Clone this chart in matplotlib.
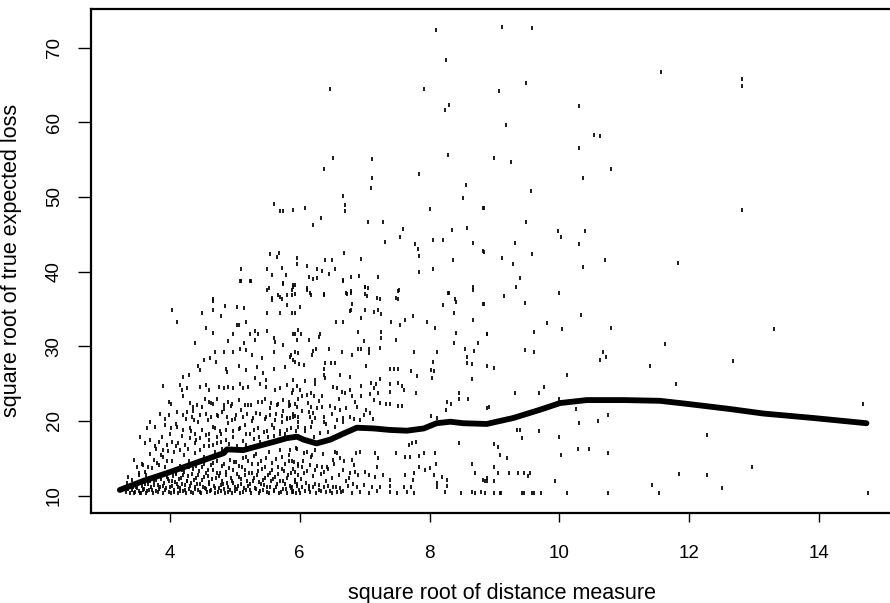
import matplotlib
matplotlib.use("Agg")
import matplotlib.pyplot as plt

plt.rcParams['font.family'] = ['Liberation Sans', 'DejaVu Sans']

# smoother through the cloud
curve_x = [3.23, 3.6, 3.95, 4.47, 4.83, 4.88, 5.13, 5.34, 5.60, 5.80, 5.96, 6.06, 6.26, 6.47,
           6.67, 6.88, 7.14, 7.39, 7.65, 7.91, 8.11, 8.32, 8.52, 8.88, 9.29, 9.70, 10.01,
           10.42, 11.0, 11.55, 11.96, 12.63, 13.14, 13.91, 14.73]
curve_y = [10.76, 12.0, 13.0, 14.6, 15.7, 16.2, 16.1, 16.6, 17.2, 17.7, 17.9, 17.5, 17.0, 17.5,
           18.3, 19.1, 19.0, 18.8, 18.7, 19.0, 19.7, 19.9, 19.7, 19.6, 20.4, 21.5, 22.4,
           22.8, 22.8, 22.7, 22.3, 21.6, 21.0, 20.4, 19.7]

# sparse upper points (y > ~36), left half
upper_pts = [
    (8.10, 72.4), (8.26, 68.3), (6.47, 64.4), (7.91, 64.4), (8.24, 61.7), (8.30, 62.3),
    (6.51, 55.2), (6.38, 53.7), (7.12, 55.1), (7.12, 52.6), (7.10, 51.2), (8.28, 55.6),
    (7.83, 53.1), (8.56, 51.6), (8.51, 49.9), (8.84, 48.5), (8.01, 48.4), (6.66, 50.1),
    (6.70, 48.9), (6.70, 48.1), (5.61, 49.0), (5.70, 48.1), (5.74, 48.1), (5.90, 48.2),
    (6.08, 48.5), (6.33, 47.2), (6.21, 46.2), (7.05, 46.6), (7.29, 46.7), (7.59, 45.7),
    (7.55, 44.6), (7.31, 44.0), (7.78, 43.7), (7.82, 43.1), (7.83, 42.1), (8.06, 44.2),
    (8.20, 44.2), (8.34, 45.6), (8.57, 45.8), (8.67, 43.8), (8.84, 42.6), (8.36, 41.6),
    (7.84, 39.9), (8.06, 40.3), (6.68, 42.5), (6.39, 41.6), (6.49, 41.6), (6.94, 41.7),
    (5.54, 42.4), (5.68, 42.5), (5.65, 42.0), (5.96, 41.8), (5.96, 41.0), (5.10, 40.4),
    (5.50, 40.3), (5.57, 39.6), (5.72, 40.5), (5.79, 39.5), (6.11, 40.7), (6.26, 40.3),
    (6.34, 40.1), (6.55, 40.4), (6.45, 39.7), (6.15, 39.3), (6.20, 39.0), (6.26, 39.2),
    (6.66, 38.9), (6.79, 39.3), (6.92, 39.4), (7.20, 39.3), (5.10, 38.7), (5.25, 38.8),
    (5.75, 38.5), (5.93, 38.2), (5.88, 37.6), (5.93, 37.0), (5.52, 37.8), (5.57, 36.5),
    (5.70, 36.6), (5.80, 36.9), (6.11, 37.8), (6.16, 37.1), (6.37, 37.0), (6.72, 37.1),
    (6.79, 37.4), (7.00, 38.0), (7.05, 37.8), (7.00, 37.0), (7.19, 36.5), (7.48, 36.5),
    (7.53, 37.6), (8.28, 37.2), (8.39, 36.4), (8.67, 37.9), (4.67, 36.3),
]

# right half, everything beyond x ~ 8.8
right_pts = [
    (9.12, 72.8), (9.58, 72.6), (11.57, 66.7), (12.82, 65.8), (12.82, 64.9), (9.48, 65.2),
    (9.07, 64.2), (10.30, 62.2), (9.18, 59.7), (10.54, 58.3), (10.62, 58.2), (10.30, 56.5),
    (9.00, 55.2), (9.26, 54.7), (10.80, 53.7), (10.37, 52.6), (9.56, 50.8), (8.83, 48.5),
    (12.82, 48.2), (9.48, 46.7), (9.98, 45.5), (10.03, 44.7), (10.39, 45.4), (9.31, 43.8),
    (10.30, 43.7), (8.83, 42.7), (9.12, 41.8), (9.29, 41.0), (9.58, 42.3), (10.37, 40.6),
    (10.71, 41.6), (11.83, 41.2), (9.40, 39.1), (9.33, 38.0), (9.14, 36.7), (10.00, 37.2),
    (9.47, 35.8), (8.84, 35.7), (10.34, 34.2), (9.81, 33.1), (9.61, 31.9), (10.04, 32.3),
    (10.79, 32.4), (13.31, 32.3), (8.88, 31.6), (11.63, 30.3), (9.47, 29.5), (9.61, 29.2),
    (10.67, 29.2), (10.63, 28.2), (10.72, 28.6), (12.67, 28.1), (8.88, 27.3), (9.00, 27.1),
    (11.39, 27.3), (10.11, 26.1), (11.80, 25.0), (9.76, 24.6), (9.69, 23.8), (9.31, 23.7),
    (14.67, 22.3), (8.89, 21.8), (10.00, 22.9), (10.25, 21.6), (10.75, 20.8), (10.60, 20.0),
    (10.30, 19.7), (9.35, 18.8), (9.40, 18.8), (9.69, 18.7), (9.42, 17.7), (10.00, 17.9),
    (12.28, 18.1), (9.00, 16.9), (9.05, 16.5), (9.09, 15.4), (9.19, 15.1), (10.28, 16.3),
    (10.45, 16.3), (10.03, 15.4), (10.75, 15.7), (8.99, 13.8), (9.05, 13.0), (9.23, 13.0),
    (9.37, 13.0), (9.45, 13.0), (9.54, 13.0), (9.51, 12.6), (8.85, 12.0), (8.89, 12.0),
    (9.00, 12.0), (9.93, 12.0), (12.97, 13.8), (11.84, 12.9), (12.28, 12.7), (11.43, 11.4),
    (12.51, 11.0), (8.86, 10.4), (8.99, 10.4), (9.08, 10.4), (9.10, 10.4), (9.42, 10.4),
    (9.46, 10.4), (9.58, 10.4), (9.61, 10.4), (9.71, 10.4), (10.11, 10.4), (10.75, 10.4),
    (11.53, 10.4), (14.75, 10.4),
]

# middle block, x ~ 5.85 .. 8.9, y below ~39
mid_pts = [
    (6.66, 38.7), (5.90, 38.0), (6.11, 37.6), (6.17, 36.9), (6.37, 36.9), (6.73, 37.0),
    (6.79, 37.2), (7.01, 37.9), (7.04, 36.7), (7.23, 36.3), (7.51, 37.4), (7.51, 36.3),
    (8.30, 37.1), (8.40, 36.0), (8.67, 37.6), (8.82, 35.7), (8.20, 35.5), (5.92, 34.4),
    (6.00, 35.2), (6.81, 35.7), (6.79, 34.8), (6.77, 34.7), (7.00, 34.9), (7.14, 34.6),
    (7.20, 34.8), (7.25, 34.3), (6.95, 33.8), (6.56, 33.3), (6.66, 33.3), (7.41, 33.3),
    (7.54, 32.8), (7.62, 33.5), (7.75, 34.1), (7.96, 33.3), (8.09, 32.4), (8.37, 34.4),
    (8.67, 33.5), (5.97, 32.2), (5.93, 31.7), (6.02, 31.6), (6.31, 31.7), (6.30, 31.2),
    (6.90, 31.9), (7.25, 31.9), (7.25, 31.1), (7.49, 30.8), (8.40, 31.8), (8.88, 31.7),
    (6.99, 30.7), (6.94, 29.7), (7.06, 29.7), (7.07, 29.1), (7.23, 29.8), (6.15, 30.8),
    (6.25, 29.6), (6.19, 28.8), (6.21, 29.4), (6.45, 29.7), (6.65, 29.3), (6.81, 28.8),
    (6.90, 29.6), (5.85, 28.6), (5.97, 29.1), (5.90, 28.2), (5.99, 27.6), (6.06, 27.5),
    (6.39, 27.7), (6.48, 27.8), (6.54, 27.8), (6.37, 26.9), (7.02, 27.3), (7.76, 29.3),
    (8.12, 29.3), (8.37, 30.4), (8.55, 29.7), (8.68, 29.4), (8.75, 30.5), (8.05, 27.9),
    (8.57, 28.6), (8.57, 27.7), (8.65, 27.6), (7.39, 26.9), (7.46, 26.9), (7.52, 26.9),
    (7.71, 26.7), (7.81, 26.0), (8.02, 26.8), (8.07, 26.7), (8.04, 25.7), (6.39, 25.8),
    (6.38, 26.2), (6.62, 26.2), (6.78, 25.9), (7.24, 25.6), (7.10, 25.1), (7.18, 25.0),
    (5.90, 25.5), (5.96, 24.7), (6.08, 25.4), (6.24, 25.5), (6.23, 24.9), (6.52, 24.5),
    (6.57, 24.4), (6.65, 23.9), (6.70, 23.8), (6.81, 23.3), (6.94, 24.7), (7.14, 24.4),
    (7.20, 23.8), (7.09, 23.6), (7.39, 24.9), (7.39, 23.9), (7.51, 25.1), (7.57, 24.7),
    (7.60, 24.1), (7.79, 23.7), (8.45, 23.7), (8.45, 23.0), (8.59, 23.0), (8.66, 25.6),
    (8.91, 21.9), (5.90, 24.1), (6.00, 24.1), (6.03, 23.3), (6.11, 23.5), (6.18, 23.7),
    (6.22, 23.3), (6.29, 22.7), (5.85, 22.1), (5.96, 21.9), (6.18, 21.9), (6.14, 21.2),
    (6.20, 21.1), (6.35, 21.9), (6.47, 22.0), (6.55, 21.8), (6.62, 21.5), (7.23, 22.4),
    (7.33, 22.3), (7.39, 22.3), (7.51, 22.0), (7.58, 22.0), (7.14, 22.8), (7.02, 21.5),
    (7.09, 21.1), (6.89, 21.9), (8.02, 20.7), (8.11, 20.4), (8.27, 22.5), (8.26, 21.5),
    (8.33, 22.3), (6.16, 20.6), (6.24, 20.4), (6.19, 19.9), (6.37, 20.6), (6.37, 19.9),
    (6.58, 20.1), (6.66, 20.4), (6.78, 20.6), (6.83, 20.2), (6.93, 20.1), (6.99, 20.8),
    (7.13, 20.2), (5.85, 20.4), (5.93, 20.7), (5.98, 19.2), (6.08, 19.0),
    (5.85, 16.1), (5.96, 16.3), (6.06, 15.7), (6.11, 15.9), (6.19, 15.4), (6.24, 16.1),
    (6.54, 15.9), (6.57, 15.7), (6.52, 14.8), (6.62, 15.0), (6.87, 15.7), (6.93, 15.8),
    (6.80, 14.8), (6.83, 14.1), (7.16, 15.7), (7.21, 15.0), (7.19, 13.9), (7.49, 15.7),
    (7.68, 16.8), (7.73, 17.0), (7.79, 17.2), (7.62, 15.2), (7.70, 15.2), (7.91, 15.7),
    (7.83, 15.3), (7.84, 13.9), (7.93, 13.4), (8.00, 13.7), (8.09, 15.7), (8.10, 14.3),
    (8.45, 17.1), (8.65, 14.3), (8.70, 13.0), (5.88, 14.6), (5.98, 14.3), (6.03, 13.9),
    (5.93, 13.2), (6.06, 13.0), (6.16, 14.1), (6.24, 13.4), (6.34, 13.9), (6.37, 13.2),
    (6.42, 13.9), (6.67, 13.4), (6.78, 13.0), (6.85, 13.2), (6.90, 12.8), (7.01, 13.2),
    (7.06, 12.8), (7.16, 12.5), (7.29, 12.8), (7.39, 12.1), (7.62, 12.8), (7.76, 13.0),
    (7.75, 12.1), (8.07, 12.8), (8.11, 11.7), (8.19, 12.5), (8.27, 12.1), (8.83, 12.1),
    (8.88, 12.3), (5.88, 11.2), (5.96, 11.3), (6.03, 11.1), (6.14, 11.3), (6.21, 11.2),
    (6.29, 11.4), (6.37, 11.1), (6.44, 11.3), (6.52, 11.2), (6.62, 11.0), (6.75, 11.3),
    (6.88, 11.2), (6.99, 11.4), (7.11, 11.1), (7.24, 11.2), (7.39, 11.3), (7.60, 11.2),
    (7.71, 11.1), (8.11, 11.2), (8.27, 11.3), (5.90, 10.5), (6.00, 10.4), (6.08, 10.6),
    (6.16, 10.5), (6.25, 10.4), (6.33, 10.6), (6.41, 10.5), (6.50, 10.4), (6.57, 10.5),
    (6.67, 10.6), (6.80, 10.4), (6.93, 10.5), (7.06, 10.4), (7.19, 10.6), (7.39, 10.5),
    (7.50, 10.4), (7.66, 10.5), (7.76, 10.4), (8.24, 10.5), (8.48, 10.4), (8.65, 10.5),
    (8.70, 10.4), (8.80, 10.5),
]

# left block, x ~ 3.3 .. 6, above the smoother
left_pts = [
    (5.08, 38.7), (5.24, 38.7), (5.74, 38.4), (5.90, 38.2), (5.88, 36.9), (5.72, 36.4),
    (5.80, 35.5), (5.49, 37.6), (5.57, 36.2), (5.67, 36.9), (4.66, 36.1), (4.85, 35.4),
    (5.03, 35.2), (5.14, 35.1), (4.04, 34.8), (4.49, 34.5), (4.67, 34.8), (5.49, 34.4),
    (5.70, 34.5), (5.88, 34.4), (4.11, 33.3), (4.79, 34.0), (5.03, 32.8), (5.07, 32.9),
    (5.18, 33.2), (4.56, 32.5), (4.67, 31.8), (4.97, 31.6), (5.24, 31.7), (5.31, 32.0),
    (5.35, 31.7), (5.50, 32.0), (5.60, 31.1), (5.62, 30.6), (5.75, 30.2), (5.89, 31.7),
    (5.96, 30.8), (4.39, 30.4), (4.90, 30.7), (5.14, 30.5), (5.31, 30.8), (4.69, 29.3),
    (4.84, 29.3), (4.98, 29.3), (5.08, 29.6), (5.18, 29.5), (4.53, 28.2), (4.62, 28.4),
    (4.71, 27.9), (4.87, 27.0), (4.88, 26.6), (5.26, 28.8), (5.42, 28.4), (5.60, 29.3),
    (5.87, 28.8), (5.93, 29.3), (4.44, 27.4), (4.47, 26.8), (4.21, 25.9), (4.30, 26.2),
    (3.89, 24.7), (5.07, 27.4), (5.17, 26.8), (5.34, 27.2), (5.44, 26.4), (5.48, 25.5),
    (5.60, 27.0), (5.78, 27.2), (5.92, 27.9), (4.16, 24.8), (4.27, 24.4), (4.19, 24.1),
    (4.47, 24.6), (4.56, 24.8), (4.61, 24.1), (4.75, 24.6), (4.84, 24.4), (4.90, 24.6),
    (4.97, 24.4), (5.08, 25.0), (5.12, 24.4), (5.21, 24.6), (5.31, 25.7), (5.39, 25.0),
    (5.48, 24.6), (5.62, 24.1), (5.70, 24.4), (5.80, 24.8), (5.88, 23.7), (3.98, 22.6),
    (4.01, 22.3), (4.20, 23.3), (4.31, 22.4), (4.35, 21.9), (4.42, 22.1), (4.54, 23.0),
    (4.60, 22.6), (4.67, 22.3), (4.73, 22.9), (4.83, 22.1), (4.89, 22.6), (4.95, 22.3),
    (5.07, 22.8), (5.15, 22.1), (5.25, 22.1), (5.35, 22.5), (5.47, 23.0), (5.56, 22.4),
    (5.65, 22.1), (5.74, 22.8), (5.83, 22.6), (5.93, 22.3), (5.98, 22.9), (3.85, 21.0),
    (3.93, 20.2), (3.99, 20.8), (4.11, 21.2), (4.20, 20.8), (4.27, 21.2), (4.34, 20.6),
    (4.37, 20.1), (4.47, 20.8), (4.56, 21.0), (4.64, 20.5), (4.72, 20.8), (4.80, 21.2),
    (4.88, 20.6), (4.95, 20.1), (5.02, 20.8), (5.12, 20.5), (5.19, 21.0), (5.28, 20.4),
    (5.39, 21.0), (5.47, 20.2), (5.55, 20.8), (5.62, 20.1), (5.72, 20.7), (5.80, 20.4),
    (5.89, 20.6), (5.97, 19.9), (3.70, 19.9), (3.77, 19.2), (3.65, 19.0), (3.93, 19.5),
    (4.01, 19.0), (4.11, 19.2), (4.21, 18.8), (4.31, 19.0), (4.39, 18.3), (4.49, 18.8),
    (4.60, 18.3), (4.70, 19.0), (4.78, 18.3), (4.87, 18.8), (4.97, 18.6), (5.08, 19.0),
    (5.18, 18.3), (5.29, 18.8), (5.38, 17.9), (5.49, 18.6), (5.60, 19.0), (5.70, 18.3),
    (5.80, 18.8), (3.54, 17.9), (3.62, 17.0), (3.70, 17.5), (3.77, 16.6), (3.83, 17.2),
    (3.90, 16.1), (3.95, 16.8), (4.03, 17.2), (4.10, 16.6), (4.16, 16.1), (4.24, 16.8),
    (4.31, 17.7), (4.39, 17.0), (4.46, 17.7), (4.52, 16.6), (4.60, 17.5), (4.66, 16.8),
    (4.72, 17.9), (4.79, 17.2), (3.44, 14.8), (3.49, 13.9), (3.57, 14.3), (3.62, 13.2),
    (3.67, 13.9), (3.75, 14.8), (3.83, 14.1), (3.89, 15.2), (3.95, 14.6), (3.36, 12.5),
    (3.41, 12.1), (3.52, 12.8), (3.34, 11.7),
]

# dense band under the smoother, x ~ 3.3 .. 6
dense_pts = [
    (3.32, 10.5), (3.38, 10.3), (3.41, 10.8), (3.45, 10.4), (3.48, 11.1), (3.52, 10.6),
    (3.55, 10.3), (3.57, 11.3), (3.60, 10.9), (3.63, 10.4), (3.66, 11.6), (3.68, 10.7),
    (3.71, 11.2), (3.74, 10.3), (3.76, 11.9), (3.79, 10.6), (3.81, 11.4), (3.84, 10.9),
    (3.86, 12.2), (3.89, 10.4), (3.91, 11.7), (3.94, 11.0), (3.96, 12.5), (3.98, 10.5),
    (3.99, 11.9), (4.02, 10.3), (4.03, 11.3), (4.05, 12.6), (4.07, 10.8), (4.09, 13.1),
    (4.11, 11.6), (4.12, 10.4), (4.14, 12.2), (4.16, 11.0), (4.18, 13.5), (4.20, 10.6),
    (4.21, 12.8), (4.23, 11.4), (4.25, 10.3), (4.27, 12.0), (4.29, 13.8), (4.30, 10.9),
    (4.32, 11.7), (4.34, 12.9), (4.36, 10.4), (4.38, 11.2), (4.40, 14.0), (4.41, 12.4),
    (4.43, 10.7), (4.45, 13.3), (4.47, 11.5), (4.48, 10.3), (4.50, 12.1), (4.52, 14.3),
    (4.54, 11.0), (4.55, 13.0), (4.57, 10.5), (4.59, 12.6), (4.61, 11.8), (4.63, 14.1),
    (4.64, 10.8), (4.66, 13.5), (4.68, 11.3), (4.70, 10.3), (4.71, 12.3), (4.73, 14.6),
    (4.75, 11.0), (4.77, 13.1), (4.78, 10.6), (4.80, 12.0), (4.82, 11.5), (4.84, 14.2),
    (4.85, 10.4), (4.87, 12.8), (4.89, 11.2), (4.91, 13.7), (4.93, 10.8), (4.94, 12.4),
    (4.96, 10.3), (4.98, 11.7), (4.99, 14.5), (5.01, 10.6), (5.03, 12.9), (5.05, 11.3),
    (5.07, 14.0), (5.08, 10.3), (5.10, 12.2), (5.12, 15.0), (5.14, 11.0), (5.16, 13.4),
    (5.17, 10.7), (5.19, 12.0), (5.21, 14.6), (5.23, 11.5), (5.25, 10.4), (5.27, 13.1),
    (5.28, 11.9), (5.30, 15.3), (5.32, 10.9), (5.34, 12.7), (5.36, 14.2), (5.38, 10.4),
    (5.40, 11.6), (5.42, 13.6), (5.44, 10.8), (5.46, 12.4), (5.48, 15.0), (5.50, 11.2),
    (5.52, 10.3), (5.54, 13.0), (5.56, 11.9), (5.58, 14.4), (5.60, 10.6), (5.62, 12.5),
    (5.64, 11.1), (5.66, 13.8), (5.68, 10.3), (5.70, 12.0), (5.72, 15.2), (5.74, 10.9),
    (5.76, 13.3), (5.78, 11.5), (5.80, 10.4), (5.82, 12.7), (5.84, 14.7), (5.86, 11.0),
    (5.88, 10.5), (5.90, 13.6), (5.92, 12.1), (5.94, 10.3), (5.96, 11.6), (5.98, 14.0),
]

# second pass over the crowded lower-left region (below and above the smoother)
crowd_low_pts = [
    (3.36, 10.9), (3.43, 11.2), (3.47, 10.5), (3.50, 11.0), (3.54, 10.4), (3.58, 10.8),
    (3.61, 11.5), (3.65, 10.6), (3.69, 11.9), (3.72, 10.8), (3.75, 11.4), (3.78, 12.1),
    (3.82, 10.5), (3.85, 11.1), (3.87, 12.5), (3.90, 11.3), (3.93, 10.7), (3.97, 12.2),
    (4.00, 11.1), (4.04, 12.0), (4.06, 10.5), (4.08, 11.8), (4.10, 12.9), (4.13, 11.1),
    (4.15, 10.6), (4.17, 12.3), (4.19, 11.5), (4.22, 13.2), (4.24, 10.8), (4.26, 11.9),
    (4.28, 12.6), (4.31, 11.3), (4.33, 10.5), (4.35, 13.6), (4.37, 12.1), (4.39, 10.9),
    (4.42, 11.6), (4.44, 12.8), (4.46, 10.5), (4.49, 13.9), (4.51, 11.2), (4.53, 12.5),
    (4.56, 10.9), (4.58, 13.4), (4.60, 11.5), (4.62, 10.6), (4.65, 12.2), (4.67, 14.4),
    (4.69, 11.0), (4.72, 13.0), (4.74, 10.5), (4.76, 12.6), (4.79, 11.4), (4.81, 14.0),
    (4.83, 10.9), (4.86, 13.2), (4.88, 11.7), (4.90, 10.5), (4.92, 14.8), (4.95, 12.0),
    (4.97, 13.5), (5.00, 11.2), (5.02, 14.5), (5.04, 10.9), (5.06, 12.5), (5.09, 11.6),
    (5.11, 13.8), (5.13, 10.5), (5.15, 12.7), (5.18, 15.2), (5.20, 11.3), (5.22, 13.0),
    (5.24, 10.7), (5.26, 14.2), (5.29, 12.3), (5.31, 11.0), (5.33, 15.6), (5.35, 13.3),
    (5.37, 11.8), (5.39, 10.6), (5.41, 14.7), (5.43, 12.1), (5.45, 11.4), (5.47, 13.9),
    (5.49, 10.5), (5.51, 12.8), (5.53, 15.8), (5.55, 11.1), (5.57, 13.4), (5.59, 12.2),
    (5.61, 10.8), (5.63, 14.9), (5.65, 11.6), (5.67, 12.9), (5.69, 16.1), (5.71, 10.5),
    (5.73, 13.6), (5.75, 11.9), (5.77, 14.3), (5.79, 10.9), (5.81, 12.4), (5.83, 15.5),
    (5.85, 11.3), (5.87, 13.1), (5.89, 10.6), (5.91, 14.5), (5.93, 11.8), (5.95, 16.4),
    (5.97, 12.8), (5.99, 10.8), (6.02, 12.2), (6.05, 14.6), (6.09, 11.7), (6.12, 13.3),
    (6.15, 10.9), (6.18, 15.2), (6.21, 12.6), (6.24, 11.5), (6.27, 14.0), (6.30, 10.7),
    (6.33, 12.9), (6.36, 15.6), (6.40, 11.9), (6.43, 13.6), (6.46, 10.6), (6.49, 12.3),
    (6.53, 14.3), (6.56, 11.2), (6.60, 12.7), (6.63, 10.5), (6.68, 14.6), (6.72, 11.9),
    (6.76, 12.4), (6.82, 11.6),
]

crowd_high_pts = [
    (3.52, 13.0), (3.58, 14.1), (3.63, 12.8), (3.69, 15.6), (3.72, 13.7), (3.78, 16.3),
    (3.80, 14.4), (3.86, 15.5), (3.88, 17.8), (3.92, 13.9), (3.97, 16.0), (4.00, 18.3),
    (4.03, 14.6), (4.07, 15.8), (4.09, 19.6), (4.13, 17.0), (4.15, 14.0), (4.19, 18.0),
    (4.22, 15.4), (4.25, 20.3), (4.28, 16.2), (4.30, 14.6), (4.33, 18.7), (4.36, 21.3),
    (4.38, 15.7), (4.41, 17.4), (4.44, 19.8), (4.47, 16.1), (4.50, 21.9), (4.53, 15.2),
    (4.55, 18.1), (4.58, 20.1), (4.61, 16.7), (4.63, 22.4), (4.66, 19.2), (4.69, 15.9),
    (4.72, 17.0), (4.74, 20.7), (4.77, 18.6), (4.80, 16.2), (4.83, 21.6), (4.86, 17.5),
    (4.89, 19.7), (4.91, 16.9), (4.94, 22.0), (4.97, 17.9), (5.00, 20.3), (5.03, 16.6),
    (5.06, 18.9), (5.09, 21.5), (5.12, 17.3), (5.15, 19.4), (5.18, 16.8), (5.21, 22.2),
    (5.24, 18.2), (5.27, 20.0), (5.30, 17.6), (5.33, 21.1), (5.36, 19.1), (5.39, 17.2),
    (5.42, 22.6), (5.45, 18.5), (5.48, 20.6), (5.51, 17.8), (5.54, 21.7), (5.57, 19.5),
    (5.60, 18.0), (5.63, 20.9), (5.66, 22.3), (5.69, 18.6), (5.72, 19.8), (5.75, 21.4),
    (5.78, 18.3), (5.81, 20.2), (5.84, 22.0), (5.87, 19.0), (5.90, 21.0), (5.94, 18.7),
    (5.97, 20.5), (6.04, 21.3), (6.08, 18.6), (6.13, 22.4), (6.17, 19.2), (6.22, 17.9),
    (6.26, 21.7), (6.31, 18.4), (6.35, 23.4), (6.40, 19.6), (6.44, 18.5), (6.50, 21.0),
    (6.55, 19.2), (6.61, 23.0), (6.66, 19.9), (6.71, 21.8), (6.77, 24.2), (6.85, 22.6),
    (6.95, 23.3),
]

fig = plt.figure(figsize=(8.9, 6.03), dpi=100)
ax = fig.add_axes([0.1026, 0.1498, 0.922, 0.8353])

for pts in [upper_pts, right_pts, mid_pts, left_pts, dense_pts, crowd_low_pts, crowd_high_pts]:
    xs = [p[0] for p in pts]
    ys = [p[1] for p in pts]
    ax.plot(xs, ys, ls='none', marker='|', ms=2.6, mew=1.25, color='black')

ax.plot(curve_x, curve_y, color='black', lw=4.2, solid_capstyle='round',
        solid_joinstyle='round')

ax.set_xlim(2.79, 15.43)
ax.set_ylim(7.72, 75.18)
ax.set_xticks([4, 6, 8, 10, 12, 14])
ax.set_yticks([10, 20, 30, 40, 50, 60, 70])

for side in ['left', 'bottom', 'top', 'right']:
    ax.spines[side].set_linewidth(1.6)

ax.tick_params(axis='x', length=6.5, width=1.0, labelsize=13.5, pad=17)
ax.tick_params(axis='y', length=9.5, width=1.0, labelsize=13.5, pad=11, labelrotation=90)
for lab in ax.get_yticklabels():
    lab.set_verticalalignment('center')

ax.set_xlabel('square root of distance measure', fontsize=15.5)
ax.set_ylabel('square root of true expected loss', fontsize=15.5)
ax.xaxis.set_label_coords(0.5, -0.139)
ax.yaxis.set_label_coords(-0.0845, 0.5)

plt.savefig('out.png', dpi=100)
